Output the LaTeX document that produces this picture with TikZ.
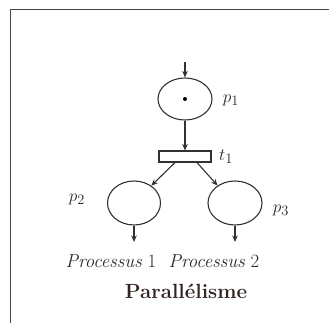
\documentclass[tikz,border=0pt]{standalone}
\usetikzlibrary{arrows.meta,shapes.geometric}
\begin{document}
\begin{tikzpicture}[x=1pt,y=-1pt,
  net/.style={draw={rgb,255:red,50;green,50;blue,50}, line width=1.1pt},
  place/.style={net, ellipse, minimum width=#1, minimum height=44pt, inner sep=0pt},
  place/.default=53pt,
  trans/.style={net, rectangle, minimum width=52pt, minimum height=11pt, inner sep=0pt},
  arc/.style={net, -{Stealth[length=6.5pt,width=5.5pt]}},
  lbl/.style={font=\fontsize{19}{21}\selectfont, text={rgb,255:red,40;green,40;blue,40}, inner sep=0pt},
  proc/.style={font=\fontsize{18.8}{22}\selectfont, text={rgb,255:red,40;green,40;blue,40}, inner sep=0pt},
  caption/.style={font=\fontsize{20.5}{22}\selectfont\bfseries, text={rgb,255:red,50;green,34;blue,34}, inner sep=0pt}]
\useasboundingbox (0,0) rectangle (329,323);
\fill[white] (0,0) rectangle (329,323);
% frame edges
\draw[line width=1pt, draw={rgb,255:red,70;green,70;blue,70}] (10,323) -- (10,10) -- (329,10);

% places and transition
\node[place=54pt, minimum height=42pt] (p1) at (185,99) {};
\fill[black] (p1.center) circle (2pt);
\node[trans] (t1) at (185,156.5) {};
\node[place=53pt] (p2) at (134,203) {};
\node[place=54pt] (p3) at (235,203) {};

% labels
\node[lbl] (lp1) at (231,100) {$p_1$};
\node[lbl] (lt1) at (226,157) {$t_1$};
\node[lbl] (lp2) at (77,199) {$p_2$};
\node[lbl] (lp3) at (281,210) {$p_3$};

% arcs
\coordinate (in) at (185,62);
\coordinate (o2) at (134,242);
\coordinate (o3) at (235,242);
\draw[arc] (in) -- (p1.north);
\draw[arc] (p1.south) -- (t1.north);
\draw[arc] ([xshift=-10pt]t1.south) -- (p2.45);
\draw[arc] ([xshift=12pt]t1.south) -- (p3.135);
\draw[arc] (p2.south) -- (o2);
\draw[arc] (p3.south) -- (o3);

% process names and caption
\node[proc] (n1) at (111,261) {\textit{Processus}~1};
\node[proc] (n2) at (214,261) {\textit{Processus}~2};
\node[caption] (cap) at (186,291) {Parallélisme};
\end{tikzpicture}
\end{document}
